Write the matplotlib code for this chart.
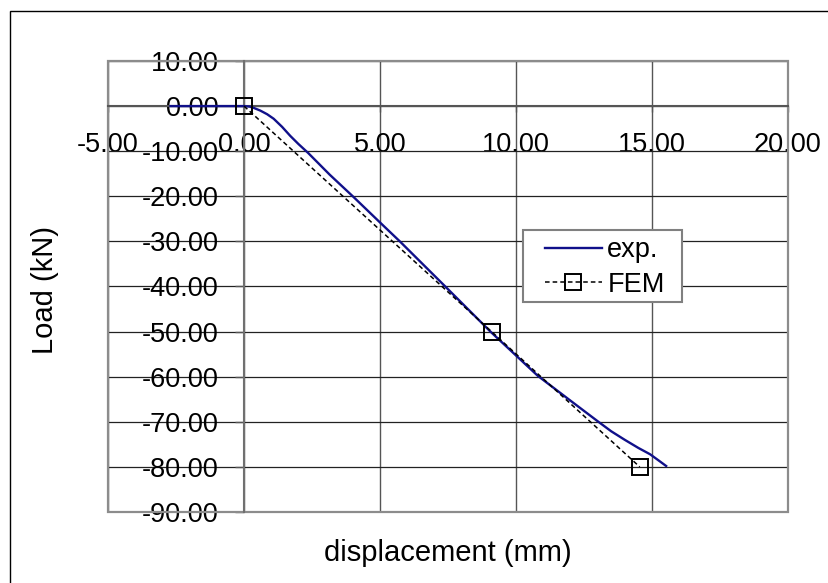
import matplotlib
matplotlib.use("Agg")
import matplotlib.pyplot as plt
from matplotlib.patches import Rectangle

plt.rcParams['font.family'] = ['Liberation Sans', 'DejaVu Sans']

# ---- data ----
exp_x = [-2.7, 0.0, 0.2, 0.36, 0.6, 0.85, 1.09, 1.4, 1.7, 2.0, 2.36, 3.15, 4.0,
         5.0, 5.73, 7.4, 9.06, 10.8, 12.0, 13.03, 13.5, 14.0, 14.5, 14.93,
         15.25, 15.52]
exp_y = [0.0, 0.0, -0.1, -0.4, -1.0, -1.8, -2.8, -4.6, -6.6, -8.4, -10.4,
         -15.2, -20.0, -25.8, -30.0, -40.0, -50.0, -59.8, -65.3, -70.0, -72.1,
         -74.0, -75.8, -77.2, -78.6, -79.8]
fem_x = [0.0, 9.1, 14.55]
fem_y = [0.0, -50.0, -80.0]
x_ticks = [-5, 0, 5, 10, 15, 20]
y_ticks = [10, 0, -10, -20, -30, -40, -50, -60, -70, -80, -90]
x_label = "displacement (mm)"
y_label = "Load (kN)"
series_names = ["exp.", "FEM"]

W, H = 829, 583
fig = plt.figure(figsize=(W / 100, H / 100), dpi=100)
fig.patch.set_facecolor('white')

# outer frame
fig.add_artist(Rectangle((10.5 / W, -0.05), 1.0, 1 - 10.5 / H + 0.05,
                         transform=fig.transFigure, fill=False,
                         edgecolor='black', linewidth=1.0))

L, R, T, B = 108, 788, 61, 512
ax = fig.add_axes([L / W, 1 - B / H, (R - L) / W, (B - T) / H])
ax.set_xlim(-5, 20)
ax.set_ylim(-90, 10)

FS = 19.5
LFS = 21
ax.set_xticks(x_ticks)
ax.set_yticks(y_ticks)
ax.set_xticklabels([f"{v:.2f}" for v in x_ticks])
ax.set_yticklabels([f"{v:.2f}" for v in y_ticks])

for s in ['top', 'right']:
    ax.spines[s].set_visible(False)
ax.spines['left'].set_position(('data', 0))
ax.spines['bottom'].set_position(('data', 0))
ax.spines['left'].set_color('#707070')
ax.spines['bottom'].set_color('#555555')
ax.spines['left'].set_linewidth(1.5)
ax.spines['bottom'].set_linewidth(1.5)

ax.tick_params(axis='y', direction='out', length=6.5, width=1.0,
               color='#555555', pad=12, labelsize=FS)
ax.tick_params(axis='x', direction='out', length=4.5, width=1.0,
               color='#555555', pad=14, labelsize=FS)

ax.grid(True, axis='y', color='#222222', linewidth=0.9)
ax.grid(True, axis='x', color='#555555', linewidth=1.0)
ax.set_axisbelow(True)

ax.add_patch(Rectangle((0, 0), 1, 1, transform=ax.transAxes, fill=False,
                       edgecolor='#8c8c8c', linewidth=1.6, clip_on=False,
                       zorder=1.5))

ax.plot(exp_x, exp_y, color='#10108a', linewidth=1.7, label=series_names[0],
        zorder=3)
ax.plot(fem_x, fem_y, color='black', linewidth=1.1, dashes=(3, 2),
        marker='s', markersize=11, markerfacecolor='none',
        markeredgecolor='black', markeredgewidth=1.4, label=series_names[1],
        zorder=4)

# legend box drawn in pixel coordinates, legend entries without frame
lx0, ly0, lx1, ly1 = 523, 230, 682, 302
ax.add_patch(Rectangle((lx0 / W, 1 - ly1 / H), (lx1 - lx0) / W, (ly1 - ly0) / H,
                       transform=fig.transFigure, facecolor='white',
                       edgecolor='#808080', linewidth=1.5, zorder=5,
                       clip_on=False))
leg = ax.legend(loc='upper left',
                bbox_to_anchor=((545 - L) / (R - L), (B - 237) / (B - T)),
                fontsize=FS, frameon=False, borderpad=0, labelspacing=0.32,
                handlelength=2.1, handletextpad=0.2, borderaxespad=0)
leg.set_zorder(6)

ax.set_xlabel(x_label, fontsize=LFS, va='center')
ax.xaxis.set_label_coords(0.5, (B - 553) / (B - T))
ax.set_ylabel(y_label, fontsize=LFS, va='center', ha='center')
ax.yaxis.set_label_coords((45 - L) / (R - L), (B - 290) / (B - T))

fig.savefig("out.png", dpi=100)
